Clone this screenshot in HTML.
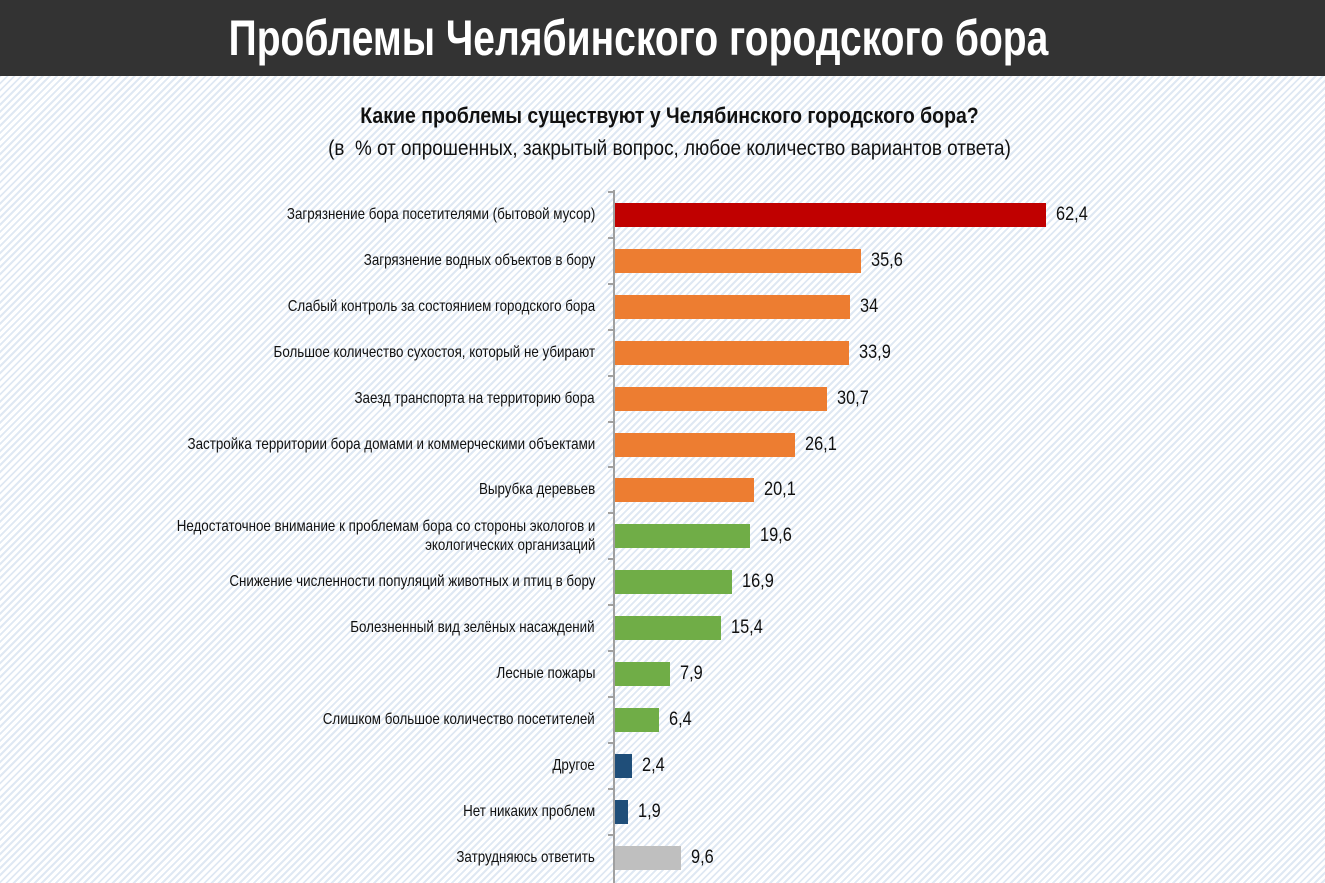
<!DOCTYPE html>
<html><head><meta charset="utf-8"><style>
body{margin:0;width:1325px;height:883px;overflow:hidden;font-family:"Liberation Sans",sans-serif;
background:repeating-linear-gradient(135deg,#ffffff 0px,#ffffff 3px,#dfe8f3 3px,#dfe8f3 5px);position:relative}
.hdr{position:absolute;left:0;top:0;width:1325px;height:76px;background:#333333;overflow:hidden}
.hdr div{position:absolute;left:-24px;top:0;width:1325px;text-align:center;color:#fff;font-weight:bold;font-size:50px;line-height:76px;transform:scaleX(0.78);transform-origin:center 0}
.t1{position:absolute;left:7px;top:103px;width:1325px;text-align:center;font-weight:bold;font-size:22px;color:#111;transform:scaleX(0.885);transform-origin:center 0}
.t2{position:absolute;left:7px;top:137px;width:1325px;text-align:center;font-size:21px;color:#111;transform:scaleX(0.9);transform-origin:center 0}
.lab{position:absolute;right:730px;font-size:16px;color:#111;text-align:right;line-height:19px;white-space:nowrap;transform:scaleX(0.835);transform-origin:right 0}
.bar{position:absolute;left:615px;height:24px}
.val{position:absolute;font-size:19px;color:#111;transform:scaleX(0.86);transform-origin:0 0}
.axis{position:absolute;left:613px;top:190px;width:2px;height:693px;background:#a0a0a0}
.tick{position:absolute;left:608px;width:6px;height:2px;background:#a0a0a0}
</style></head><body>
<div class="hdr"><div>Проблемы Челябинского городского бора</div></div>
<div class="t1">Какие проблемы существуют у Челябинского городского бора?</div>
<div class="t2">(в &nbsp;% от опрошенных, закрытый вопрос, любое количество вариантов ответа)</div>
<div class="axis"></div>
<div id="c"></div>
<script>
var d=[["Загрязнение бора посетителями (бытовой мусор)",62.4,"#c00000","62,4"],
["Загрязнение водных объектов в бору",35.6,"#ed7d31","35,6"],
["Слабый контроль за состоянием городского бора",34,"#ed7d31","34"],
["Большое количество сухостоя, который не убирают",33.9,"#ed7d31","33,9"],
["Заезд транспорта на территорию бора",30.7,"#ed7d31","30,7"],
["Застройка территории бора домами и коммерческими объектами",26.1,"#ed7d31","26,1"],
["Вырубка деревьев",20.1,"#ed7d31","20,1"],
["Недостаточное внимание к проблемам бора со стороны экологов и<br>экологических организаций",19.6,"#70ad47","19,6"],
["Снижение численности популяций животных и птиц в бору",16.9,"#70ad47","16,9"],
["Болезненный вид зелёных насаждений",15.4,"#70ad47","15,4"],
["Лесные пожары",7.9,"#70ad47","7,9"],
["Слишком большое количество посетителей",6.4,"#70ad47","6,4"],
["Другое",2.4,"#1f4e79","2,4"],
["Нет никаких проблем",1.9,"#1f4e79","1,9"],
["Затрудняюсь ответить",9.6,"#bfbfbf","9,6"]];
var h="";
for(var i=0;i<d.length;i++){var cy=215+i*45.9;var w=d[i][1]*6.91;
var two=d[i][0].indexOf("<br>")>0;
h+='<div class="lab" style="top:'+(cy-(two?19:10))+'px">'+d[i][0]+'</div>';
h+='<div class="bar" style="top:'+(cy-12)+'px;width:'+w+'px;background:'+d[i][2]+'"></div>';
h+='<div class="val" style="top:'+(cy-11)+'px;left:'+(615+w+10)+'px">'+d[i][3]+'</div>';
h+='<div class="tick" style="top:'+(cy-24)+'px"></div>';}
document.getElementById("c").innerHTML=h;
</script>
</body></html>
